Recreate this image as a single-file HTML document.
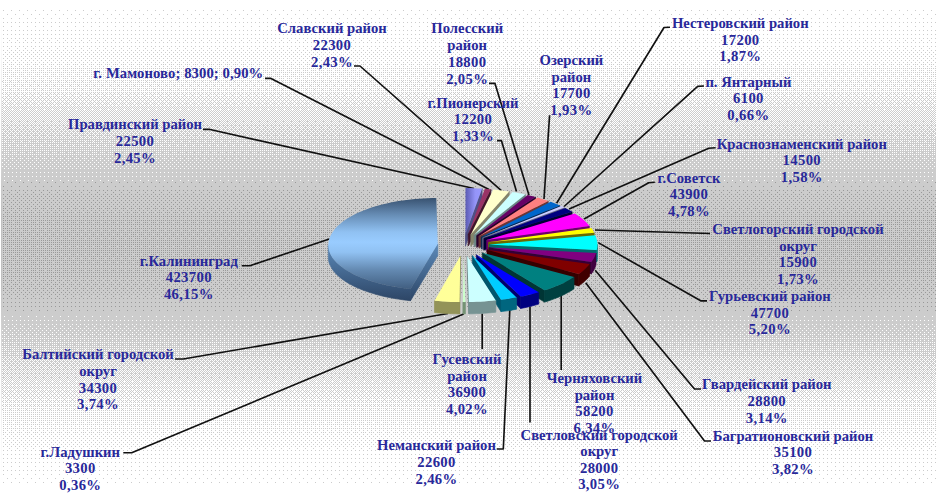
<!DOCTYPE html>
<html><head><meta charset="utf-8"><title>chart</title>
<style>
html,body{margin:0;padding:0;background:#fff;}
body{width:936px;height:495px;overflow:hidden;font-family:"Liberation Serif",serif;}
svg{display:block}
text{font-family:"Liberation Serif",serif;font-weight:bold;font-size:14.67px;fill:#28289a;text-anchor:middle}
.ld polyline{fill:none;stroke:#111;stroke-width:1.65;stroke-linejoin:round}
</style></head><body>
<svg width="936" height="495" viewBox="0 0 936 495">
<defs>
<linearGradient id="bg" gradientUnits="userSpaceOnUse" x1="0" y1="9" x2="0" y2="485">
<stop offset="0.0000" stop-color="#ffffff"/><stop offset="0.0609" stop-color="#fcfcfc"/><stop offset="0.0987" stop-color="#f9f9f9"/><stop offset="0.1408" stop-color="#f2f2f2"/><stop offset="0.2122" stop-color="#e6e6e6"/><stop offset="0.3634" stop-color="#cccccc"/><stop offset="0.4328" stop-color="#c0c0c0"/><stop offset="0.5672" stop-color="#c0c0c0"/><stop offset="0.6366" stop-color="#cccccc"/><stop offset="0.7878" stop-color="#e6e6e6"/><stop offset="0.8592" stop-color="#f2f2f2"/><stop offset="0.9013" stop-color="#f9f9f9"/><stop offset="0.9391" stop-color="#fcfcfc"/><stop offset="1.0000" stop-color="#ffffff"/>
</linearGradient>
<linearGradient id="kalg" gradientUnits="userSpaceOnUse" x1="0" y1="198" x2="0" y2="290">
<stop offset="0" stop-color="#385270"/><stop offset="0.18" stop-color="#668cb4"/><stop offset="0.37" stop-color="#90c1f2"/><stop offset="0.48" stop-color="#99ccff"/><stop offset="0.59" stop-color="#90c1f2"/><stop offset="0.78" stop-color="#648ab2"/><stop offset="1" stop-color="#3f5c7e"/>
</linearGradient>
<linearGradient id="prg" gradientUnits="userSpaceOnUse" x1="465" y1="0" x2="482" y2="0">
<stop offset="0" stop-color="#5858b0"/><stop offset="0.6" stop-color="#9494f8"/><stop offset="1" stop-color="#9999ff"/>
</linearGradient>
<linearGradient id="kalw" gradientUnits="userSpaceOnUse" x1="0" y1="240" x2="0" y2="302">
<stop offset="0" stop-color="#5f8fc0"/><stop offset="1" stop-color="#2c4464"/>
</linearGradient>
<pattern id="d1_0" patternUnits="userSpaceOnUse" x="0" y="0" width="8" height="8"><rect width="8" height="8" fill="#ffffff"/></pattern>
<pattern id="d1_1" patternUnits="userSpaceOnUse" x="0" y="0" width="8" height="8"><rect width="8" height="8" fill="#ffffff"/><path d="M3 2h1v1h-1z" fill="#cccccc"/></pattern>
<pattern id="d1_2" patternUnits="userSpaceOnUse" x="0" y="0" width="8" height="8"><rect width="8" height="8" fill="#ffffff"/><path d="M3 2h1v1h-1zM7 6h1v1h-1z" fill="#cccccc"/></pattern>
<pattern id="d1_3" patternUnits="userSpaceOnUse" x="0" y="0" width="8" height="8"><rect width="8" height="8" fill="#ffffff"/><path d="M3 2h1v1h-1zM3 6h1v1h-1zM7 6h1v1h-1z" fill="#cccccc"/></pattern>
<pattern id="d1_4" patternUnits="userSpaceOnUse" x="0" y="0" width="8" height="8"><rect width="8" height="8" fill="#ffffff"/><path d="M3 2h1v1h-1zM7 2h1v1h-1zM3 6h1v1h-1zM7 6h1v1h-1z" fill="#cccccc"/></pattern>
<pattern id="d1_5" patternUnits="userSpaceOnUse" x="0" y="0" width="8" height="8"><rect width="8" height="8" fill="#ffffff"/><path d="M1 0h1v1h-1zM3 2h1v1h-1zM7 2h1v1h-1zM3 6h1v1h-1zM7 6h1v1h-1z" fill="#cccccc"/></pattern>
<pattern id="d1_6" patternUnits="userSpaceOnUse" x="0" y="0" width="8" height="8"><rect width="8" height="8" fill="#ffffff"/><path d="M1 0h1v1h-1zM3 2h1v1h-1zM7 2h1v1h-1zM5 4h1v1h-1zM3 6h1v1h-1zM7 6h1v1h-1z" fill="#cccccc"/></pattern>
<pattern id="d1_7" patternUnits="userSpaceOnUse" x="0" y="0" width="8" height="8"><rect width="8" height="8" fill="#ffffff"/><path d="M1 0h1v1h-1zM3 2h1v1h-1zM7 2h1v1h-1zM1 4h1v1h-1zM5 4h1v1h-1zM3 6h1v1h-1zM7 6h1v1h-1z" fill="#cccccc"/></pattern>
<pattern id="d1_8" patternUnits="userSpaceOnUse" x="0" y="0" width="8" height="8"><rect width="8" height="8" fill="#ffffff"/><path d="M1 0h1v1h-1zM5 0h1v1h-1zM3 2h1v1h-1zM7 2h1v1h-1zM1 4h1v1h-1zM5 4h1v1h-1zM3 6h1v1h-1zM7 6h1v1h-1z" fill="#cccccc"/></pattern>
<pattern id="d1_9" patternUnits="userSpaceOnUse" x="0" y="0" width="8" height="8"><rect width="8" height="8" fill="#ffffff"/><path d="M1 0h1v1h-1zM3 0h1v1h-1zM5 0h1v1h-1zM3 2h1v1h-1zM7 2h1v1h-1zM1 4h1v1h-1zM5 4h1v1h-1zM3 6h1v1h-1zM7 6h1v1h-1z" fill="#cccccc"/></pattern>
<pattern id="d1_10" patternUnits="userSpaceOnUse" x="0" y="0" width="8" height="8"><rect width="8" height="8" fill="#ffffff"/><path d="M1 0h1v1h-1zM3 0h1v1h-1zM5 0h1v1h-1zM3 2h1v1h-1zM7 2h1v1h-1zM1 4h1v1h-1zM5 4h1v1h-1zM7 4h1v1h-1zM3 6h1v1h-1zM7 6h1v1h-1z" fill="#cccccc"/></pattern>
<pattern id="d1_11" patternUnits="userSpaceOnUse" x="0" y="0" width="8" height="8"><rect width="8" height="8" fill="#ffffff"/><path d="M1 0h1v1h-1zM3 0h1v1h-1zM5 0h1v1h-1zM3 2h1v1h-1zM7 2h1v1h-1zM1 4h1v1h-1zM3 4h1v1h-1zM5 4h1v1h-1zM7 4h1v1h-1zM3 6h1v1h-1zM7 6h1v1h-1z" fill="#cccccc"/></pattern>
<pattern id="d1_12" patternUnits="userSpaceOnUse" x="0" y="0" width="8" height="8"><rect width="8" height="8" fill="#ffffff"/><path d="M1 0h1v1h-1zM3 0h1v1h-1zM5 0h1v1h-1zM7 0h1v1h-1zM3 2h1v1h-1zM7 2h1v1h-1zM1 4h1v1h-1zM3 4h1v1h-1zM5 4h1v1h-1zM7 4h1v1h-1zM3 6h1v1h-1zM7 6h1v1h-1z" fill="#cccccc"/></pattern>
<pattern id="d1_13" patternUnits="userSpaceOnUse" x="0" y="0" width="8" height="8"><rect width="8" height="8" fill="#ffffff"/><path d="M1 0h1v1h-1zM3 0h1v1h-1zM5 0h1v1h-1zM7 0h1v1h-1zM3 2h1v1h-1zM7 2h1v1h-1zM1 4h1v1h-1zM3 4h1v1h-1zM5 4h1v1h-1zM7 4h1v1h-1zM1 6h1v1h-1zM3 6h1v1h-1zM7 6h1v1h-1z" fill="#cccccc"/></pattern>
<pattern id="d1_14" patternUnits="userSpaceOnUse" x="0" y="0" width="8" height="8"><rect width="8" height="8" fill="#ffffff"/><path d="M1 0h1v1h-1zM3 0h1v1h-1zM5 0h1v1h-1zM7 0h1v1h-1zM3 2h1v1h-1zM5 2h1v1h-1zM7 2h1v1h-1zM1 4h1v1h-1zM3 4h1v1h-1zM5 4h1v1h-1zM7 4h1v1h-1zM1 6h1v1h-1zM3 6h1v1h-1zM7 6h1v1h-1z" fill="#cccccc"/></pattern>
<pattern id="d1_15" patternUnits="userSpaceOnUse" x="0" y="0" width="8" height="8"><rect width="8" height="8" fill="#ffffff"/><path d="M1 0h1v1h-1zM3 0h1v1h-1zM5 0h1v1h-1zM7 0h1v1h-1zM1 2h1v1h-1zM3 2h1v1h-1zM5 2h1v1h-1zM7 2h1v1h-1zM1 4h1v1h-1zM3 4h1v1h-1zM5 4h1v1h-1zM7 4h1v1h-1zM1 6h1v1h-1zM3 6h1v1h-1zM7 6h1v1h-1z" fill="#cccccc"/></pattern>
<pattern id="d1_16" patternUnits="userSpaceOnUse" x="0" y="0" width="8" height="8"><rect width="8" height="8" fill="#ffffff"/><path d="M1 0h1v1h-1zM3 0h1v1h-1zM5 0h1v1h-1zM7 0h1v1h-1zM1 2h1v1h-1zM3 2h1v1h-1zM5 2h1v1h-1zM7 2h1v1h-1zM1 4h1v1h-1zM3 4h1v1h-1zM5 4h1v1h-1zM7 4h1v1h-1zM1 6h1v1h-1zM3 6h1v1h-1zM5 6h1v1h-1zM7 6h1v1h-1z" fill="#cccccc"/></pattern>
<pattern id="d1_17" patternUnits="userSpaceOnUse" x="0" y="0" width="8" height="8"><rect width="8" height="8" fill="#ffffff"/><path d="M1 0h1v1h-1zM3 0h1v1h-1zM5 0h1v1h-1zM7 0h1v1h-1zM2 1h1v1h-1zM1 2h1v1h-1zM3 2h1v1h-1zM5 2h1v1h-1zM7 2h1v1h-1zM1 4h1v1h-1zM3 4h1v1h-1zM5 4h1v1h-1zM7 4h1v1h-1zM1 6h1v1h-1zM3 6h1v1h-1zM5 6h1v1h-1zM7 6h1v1h-1z" fill="#cccccc"/></pattern>
<pattern id="d1_18" patternUnits="userSpaceOnUse" x="0" y="0" width="8" height="8"><rect width="8" height="8" fill="#ffffff"/><path d="M1 0h1v1h-1zM3 0h1v1h-1zM5 0h1v1h-1zM7 0h1v1h-1zM2 1h1v1h-1zM1 2h1v1h-1zM3 2h1v1h-1zM5 2h1v1h-1zM7 2h1v1h-1zM1 4h1v1h-1zM3 4h1v1h-1zM5 4h1v1h-1zM7 4h1v1h-1zM6 5h1v1h-1zM1 6h1v1h-1zM3 6h1v1h-1zM5 6h1v1h-1zM7 6h1v1h-1z" fill="#cccccc"/></pattern>
<pattern id="d1_19" patternUnits="userSpaceOnUse" x="0" y="0" width="8" height="8"><rect width="8" height="8" fill="#ffffff"/><path d="M1 0h1v1h-1zM3 0h1v1h-1zM5 0h1v1h-1zM7 0h1v1h-1zM2 1h1v1h-1zM1 2h1v1h-1zM3 2h1v1h-1zM5 2h1v1h-1zM7 2h1v1h-1zM1 4h1v1h-1zM3 4h1v1h-1zM5 4h1v1h-1zM7 4h1v1h-1zM2 5h1v1h-1zM6 5h1v1h-1zM1 6h1v1h-1zM3 6h1v1h-1zM5 6h1v1h-1zM7 6h1v1h-1z" fill="#cccccc"/></pattern>
<pattern id="d1_20" patternUnits="userSpaceOnUse" x="0" y="0" width="8" height="8"><rect width="8" height="8" fill="#ffffff"/><path d="M1 0h1v1h-1zM3 0h1v1h-1zM5 0h1v1h-1zM7 0h1v1h-1zM2 1h1v1h-1zM6 1h1v1h-1zM1 2h1v1h-1zM3 2h1v1h-1zM5 2h1v1h-1zM7 2h1v1h-1zM1 4h1v1h-1zM3 4h1v1h-1zM5 4h1v1h-1zM7 4h1v1h-1zM2 5h1v1h-1zM6 5h1v1h-1zM1 6h1v1h-1zM3 6h1v1h-1zM5 6h1v1h-1zM7 6h1v1h-1z" fill="#cccccc"/></pattern>
<pattern id="d1_21" patternUnits="userSpaceOnUse" x="0" y="0" width="8" height="8"><rect width="8" height="8" fill="#ffffff"/><path d="M1 0h1v1h-1zM3 0h1v1h-1zM5 0h1v1h-1zM7 0h1v1h-1zM2 1h1v1h-1zM6 1h1v1h-1zM1 2h1v1h-1zM3 2h1v1h-1zM5 2h1v1h-1zM7 2h1v1h-1zM1 4h1v1h-1zM3 4h1v1h-1zM5 4h1v1h-1zM7 4h1v1h-1zM2 5h1v1h-1zM6 5h1v1h-1zM1 6h1v1h-1zM3 6h1v1h-1zM5 6h1v1h-1zM7 6h1v1h-1zM0 7h1v1h-1z" fill="#cccccc"/></pattern>
<pattern id="d1_22" patternUnits="userSpaceOnUse" x="0" y="0" width="8" height="8"><rect width="8" height="8" fill="#ffffff"/><path d="M1 0h1v1h-1zM3 0h1v1h-1zM5 0h1v1h-1zM7 0h1v1h-1zM2 1h1v1h-1zM6 1h1v1h-1zM1 2h1v1h-1zM3 2h1v1h-1zM5 2h1v1h-1zM7 2h1v1h-1zM4 3h1v1h-1zM1 4h1v1h-1zM3 4h1v1h-1zM5 4h1v1h-1zM7 4h1v1h-1zM2 5h1v1h-1zM6 5h1v1h-1zM1 6h1v1h-1zM3 6h1v1h-1zM5 6h1v1h-1zM7 6h1v1h-1zM0 7h1v1h-1z" fill="#cccccc"/></pattern>
<pattern id="d1_23" patternUnits="userSpaceOnUse" x="0" y="0" width="8" height="8"><rect width="8" height="8" fill="#ffffff"/><path d="M1 0h1v1h-1zM3 0h1v1h-1zM5 0h1v1h-1zM7 0h1v1h-1zM2 1h1v1h-1zM6 1h1v1h-1zM1 2h1v1h-1zM3 2h1v1h-1zM5 2h1v1h-1zM7 2h1v1h-1zM0 3h1v1h-1zM4 3h1v1h-1zM1 4h1v1h-1zM3 4h1v1h-1zM5 4h1v1h-1zM7 4h1v1h-1zM2 5h1v1h-1zM6 5h1v1h-1zM1 6h1v1h-1zM3 6h1v1h-1zM5 6h1v1h-1zM7 6h1v1h-1zM0 7h1v1h-1z" fill="#cccccc"/></pattern>
<pattern id="d1_24" patternUnits="userSpaceOnUse" x="0" y="0" width="8" height="8"><rect width="8" height="8" fill="#ffffff"/><path d="M1 0h1v1h-1zM3 0h1v1h-1zM5 0h1v1h-1zM7 0h1v1h-1zM2 1h1v1h-1zM6 1h1v1h-1zM1 2h1v1h-1zM3 2h1v1h-1zM5 2h1v1h-1zM7 2h1v1h-1zM0 3h1v1h-1zM4 3h1v1h-1zM1 4h1v1h-1zM3 4h1v1h-1zM5 4h1v1h-1zM7 4h1v1h-1zM2 5h1v1h-1zM6 5h1v1h-1zM1 6h1v1h-1zM3 6h1v1h-1zM5 6h1v1h-1zM7 6h1v1h-1zM0 7h1v1h-1zM4 7h1v1h-1z" fill="#cccccc"/></pattern>
<pattern id="d1_25" patternUnits="userSpaceOnUse" x="0" y="0" width="8" height="8"><rect width="8" height="8" fill="#ffffff"/><path d="M1 0h1v1h-1zM3 0h1v1h-1zM5 0h1v1h-1zM7 0h1v1h-1zM2 1h1v1h-1zM6 1h1v1h-1zM1 2h1v1h-1zM3 2h1v1h-1zM5 2h1v1h-1zM7 2h1v1h-1zM0 3h1v1h-1zM4 3h1v1h-1zM1 4h1v1h-1zM3 4h1v1h-1zM5 4h1v1h-1zM7 4h1v1h-1zM2 5h1v1h-1zM6 5h1v1h-1zM1 6h1v1h-1zM3 6h1v1h-1zM5 6h1v1h-1zM7 6h1v1h-1zM0 7h1v1h-1zM2 7h1v1h-1zM4 7h1v1h-1z" fill="#cccccc"/></pattern>
<pattern id="d1_26" patternUnits="userSpaceOnUse" x="0" y="0" width="8" height="8"><rect width="8" height="8" fill="#ffffff"/><path d="M1 0h1v1h-1zM3 0h1v1h-1zM5 0h1v1h-1zM7 0h1v1h-1zM2 1h1v1h-1zM6 1h1v1h-1zM1 2h1v1h-1zM3 2h1v1h-1zM5 2h1v1h-1zM7 2h1v1h-1zM0 3h1v1h-1zM4 3h1v1h-1zM6 3h1v1h-1zM1 4h1v1h-1zM3 4h1v1h-1zM5 4h1v1h-1zM7 4h1v1h-1zM2 5h1v1h-1zM6 5h1v1h-1zM1 6h1v1h-1zM3 6h1v1h-1zM5 6h1v1h-1zM7 6h1v1h-1zM0 7h1v1h-1zM2 7h1v1h-1zM4 7h1v1h-1z" fill="#cccccc"/></pattern>
<pattern id="d1_27" patternUnits="userSpaceOnUse" x="0" y="0" width="8" height="8"><rect width="8" height="8" fill="#ffffff"/><path d="M1 0h1v1h-1zM3 0h1v1h-1zM5 0h1v1h-1zM7 0h1v1h-1zM2 1h1v1h-1zM6 1h1v1h-1zM1 2h1v1h-1zM3 2h1v1h-1zM5 2h1v1h-1zM7 2h1v1h-1zM0 3h1v1h-1zM2 3h1v1h-1zM4 3h1v1h-1zM6 3h1v1h-1zM1 4h1v1h-1zM3 4h1v1h-1zM5 4h1v1h-1zM7 4h1v1h-1zM2 5h1v1h-1zM6 5h1v1h-1zM1 6h1v1h-1zM3 6h1v1h-1zM5 6h1v1h-1zM7 6h1v1h-1zM0 7h1v1h-1zM2 7h1v1h-1zM4 7h1v1h-1z" fill="#cccccc"/></pattern>
<pattern id="d1_28" patternUnits="userSpaceOnUse" x="0" y="0" width="8" height="8"><rect width="8" height="8" fill="#ffffff"/><path d="M1 0h1v1h-1zM3 0h1v1h-1zM5 0h1v1h-1zM7 0h1v1h-1zM2 1h1v1h-1zM6 1h1v1h-1zM1 2h1v1h-1zM3 2h1v1h-1zM5 2h1v1h-1zM7 2h1v1h-1zM0 3h1v1h-1zM2 3h1v1h-1zM4 3h1v1h-1zM6 3h1v1h-1zM1 4h1v1h-1zM3 4h1v1h-1zM5 4h1v1h-1zM7 4h1v1h-1zM2 5h1v1h-1zM6 5h1v1h-1zM1 6h1v1h-1zM3 6h1v1h-1zM5 6h1v1h-1zM7 6h1v1h-1zM0 7h1v1h-1zM2 7h1v1h-1zM4 7h1v1h-1zM6 7h1v1h-1z" fill="#cccccc"/></pattern>
<pattern id="d1_29" patternUnits="userSpaceOnUse" x="0" y="0" width="8" height="8"><rect width="8" height="8" fill="#ffffff"/><path d="M1 0h1v1h-1zM3 0h1v1h-1zM5 0h1v1h-1zM7 0h1v1h-1zM2 1h1v1h-1zM6 1h1v1h-1zM1 2h1v1h-1zM3 2h1v1h-1zM5 2h1v1h-1zM7 2h1v1h-1zM0 3h1v1h-1zM2 3h1v1h-1zM4 3h1v1h-1zM6 3h1v1h-1zM1 4h1v1h-1zM3 4h1v1h-1zM5 4h1v1h-1zM7 4h1v1h-1zM0 5h1v1h-1zM2 5h1v1h-1zM6 5h1v1h-1zM1 6h1v1h-1zM3 6h1v1h-1zM5 6h1v1h-1zM7 6h1v1h-1zM0 7h1v1h-1zM2 7h1v1h-1zM4 7h1v1h-1zM6 7h1v1h-1z" fill="#cccccc"/></pattern>
<pattern id="d1_30" patternUnits="userSpaceOnUse" x="0" y="0" width="8" height="8"><rect width="8" height="8" fill="#ffffff"/><path d="M1 0h1v1h-1zM3 0h1v1h-1zM5 0h1v1h-1zM7 0h1v1h-1zM2 1h1v1h-1zM4 1h1v1h-1zM6 1h1v1h-1zM1 2h1v1h-1zM3 2h1v1h-1zM5 2h1v1h-1zM7 2h1v1h-1zM0 3h1v1h-1zM2 3h1v1h-1zM4 3h1v1h-1zM6 3h1v1h-1zM1 4h1v1h-1zM3 4h1v1h-1zM5 4h1v1h-1zM7 4h1v1h-1zM0 5h1v1h-1zM2 5h1v1h-1zM6 5h1v1h-1zM1 6h1v1h-1zM3 6h1v1h-1zM5 6h1v1h-1zM7 6h1v1h-1zM0 7h1v1h-1zM2 7h1v1h-1zM4 7h1v1h-1zM6 7h1v1h-1z" fill="#cccccc"/></pattern>
<pattern id="d1_31" patternUnits="userSpaceOnUse" x="0" y="0" width="8" height="8"><rect width="8" height="8" fill="#ffffff"/><path d="M1 0h1v1h-1zM3 0h1v1h-1zM5 0h1v1h-1zM7 0h1v1h-1zM0 1h1v1h-1zM2 1h1v1h-1zM4 1h1v1h-1zM6 1h1v1h-1zM1 2h1v1h-1zM3 2h1v1h-1zM5 2h1v1h-1zM7 2h1v1h-1zM0 3h1v1h-1zM2 3h1v1h-1zM4 3h1v1h-1zM6 3h1v1h-1zM1 4h1v1h-1zM3 4h1v1h-1zM5 4h1v1h-1zM7 4h1v1h-1zM0 5h1v1h-1zM2 5h1v1h-1zM6 5h1v1h-1zM1 6h1v1h-1zM3 6h1v1h-1zM5 6h1v1h-1zM7 6h1v1h-1zM0 7h1v1h-1zM2 7h1v1h-1zM4 7h1v1h-1zM6 7h1v1h-1z" fill="#cccccc"/></pattern>
<pattern id="d1_32" patternUnits="userSpaceOnUse" x="0" y="0" width="8" height="8"><rect width="8" height="8" fill="#ffffff"/><path d="M1 0h1v1h-1zM3 0h1v1h-1zM5 0h1v1h-1zM7 0h1v1h-1zM0 1h1v1h-1zM2 1h1v1h-1zM4 1h1v1h-1zM6 1h1v1h-1zM1 2h1v1h-1zM3 2h1v1h-1zM5 2h1v1h-1zM7 2h1v1h-1zM0 3h1v1h-1zM2 3h1v1h-1zM4 3h1v1h-1zM6 3h1v1h-1zM1 4h1v1h-1zM3 4h1v1h-1zM5 4h1v1h-1zM7 4h1v1h-1zM0 5h1v1h-1zM2 5h1v1h-1zM4 5h1v1h-1zM6 5h1v1h-1zM1 6h1v1h-1zM3 6h1v1h-1zM5 6h1v1h-1zM7 6h1v1h-1zM0 7h1v1h-1zM2 7h1v1h-1zM4 7h1v1h-1zM6 7h1v1h-1z" fill="#cccccc"/></pattern>
<pattern id="d1_33" patternUnits="userSpaceOnUse" x="0" y="0" width="8" height="8"><rect width="8" height="8" fill="#cccccc"/><path d="M0 0h1v1h-1zM2 0h1v1h-1zM4 0h1v1h-1zM6 0h1v1h-1zM1 1h1v1h-1zM5 1h1v1h-1zM7 1h1v1h-1zM0 2h1v1h-1zM2 2h1v1h-1zM4 2h1v1h-1zM6 2h1v1h-1zM1 3h1v1h-1zM3 3h1v1h-1zM5 3h1v1h-1zM7 3h1v1h-1zM0 4h1v1h-1zM2 4h1v1h-1zM4 4h1v1h-1zM6 4h1v1h-1zM1 5h1v1h-1zM3 5h1v1h-1zM5 5h1v1h-1zM7 5h1v1h-1zM0 6h1v1h-1zM2 6h1v1h-1zM4 6h1v1h-1zM6 6h1v1h-1zM1 7h1v1h-1zM3 7h1v1h-1zM5 7h1v1h-1zM7 7h1v1h-1z" fill="#ffffff"/></pattern>
<pattern id="d1_34" patternUnits="userSpaceOnUse" x="0" y="0" width="8" height="8"><rect width="8" height="8" fill="#cccccc"/><path d="M0 0h1v1h-1zM2 0h1v1h-1zM4 0h1v1h-1zM6 0h1v1h-1zM1 1h1v1h-1zM5 1h1v1h-1zM7 1h1v1h-1zM0 2h1v1h-1zM2 2h1v1h-1zM4 2h1v1h-1zM6 2h1v1h-1zM1 3h1v1h-1zM3 3h1v1h-1zM5 3h1v1h-1zM7 3h1v1h-1zM0 4h1v1h-1zM2 4h1v1h-1zM4 4h1v1h-1zM6 4h1v1h-1zM1 5h1v1h-1zM3 5h1v1h-1zM5 5h1v1h-1zM0 6h1v1h-1zM2 6h1v1h-1zM4 6h1v1h-1zM6 6h1v1h-1zM1 7h1v1h-1zM3 7h1v1h-1zM5 7h1v1h-1zM7 7h1v1h-1z" fill="#ffffff"/></pattern>
<pattern id="d1_35" patternUnits="userSpaceOnUse" x="0" y="0" width="8" height="8"><rect width="8" height="8" fill="#cccccc"/><path d="M0 0h1v1h-1zM2 0h1v1h-1zM4 0h1v1h-1zM6 0h1v1h-1zM1 1h1v1h-1zM5 1h1v1h-1zM7 1h1v1h-1zM0 2h1v1h-1zM2 2h1v1h-1zM4 2h1v1h-1zM6 2h1v1h-1zM1 3h1v1h-1zM3 3h1v1h-1zM5 3h1v1h-1zM7 3h1v1h-1zM0 4h1v1h-1zM2 4h1v1h-1zM4 4h1v1h-1zM6 4h1v1h-1zM1 5h1v1h-1zM5 5h1v1h-1zM0 6h1v1h-1zM2 6h1v1h-1zM4 6h1v1h-1zM6 6h1v1h-1zM1 7h1v1h-1zM3 7h1v1h-1zM5 7h1v1h-1zM7 7h1v1h-1z" fill="#ffffff"/></pattern>
<pattern id="d1_36" patternUnits="userSpaceOnUse" x="0" y="0" width="8" height="8"><rect width="8" height="8" fill="#cccccc"/><path d="M0 0h1v1h-1zM2 0h1v1h-1zM4 0h1v1h-1zM6 0h1v1h-1zM1 1h1v1h-1zM5 1h1v1h-1zM0 2h1v1h-1zM2 2h1v1h-1zM4 2h1v1h-1zM6 2h1v1h-1zM1 3h1v1h-1zM3 3h1v1h-1zM5 3h1v1h-1zM7 3h1v1h-1zM0 4h1v1h-1zM2 4h1v1h-1zM4 4h1v1h-1zM6 4h1v1h-1zM1 5h1v1h-1zM5 5h1v1h-1zM0 6h1v1h-1zM2 6h1v1h-1zM4 6h1v1h-1zM6 6h1v1h-1zM1 7h1v1h-1zM3 7h1v1h-1zM5 7h1v1h-1zM7 7h1v1h-1z" fill="#ffffff"/></pattern>
<pattern id="d1_37" patternUnits="userSpaceOnUse" x="0" y="0" width="8" height="8"><rect width="8" height="8" fill="#cccccc"/><path d="M0 0h1v1h-1zM2 0h1v1h-1zM4 0h1v1h-1zM6 0h1v1h-1zM1 1h1v1h-1zM5 1h1v1h-1zM0 2h1v1h-1zM2 2h1v1h-1zM4 2h1v1h-1zM6 2h1v1h-1zM1 3h1v1h-1zM3 3h1v1h-1zM5 3h1v1h-1zM7 3h1v1h-1zM0 4h1v1h-1zM2 4h1v1h-1zM4 4h1v1h-1zM6 4h1v1h-1zM1 5h1v1h-1zM5 5h1v1h-1zM0 6h1v1h-1zM2 6h1v1h-1zM4 6h1v1h-1zM6 6h1v1h-1zM3 7h1v1h-1zM5 7h1v1h-1zM7 7h1v1h-1z" fill="#ffffff"/></pattern>
<pattern id="d1_38" patternUnits="userSpaceOnUse" x="0" y="0" width="8" height="8"><rect width="8" height="8" fill="#cccccc"/><path d="M0 0h1v1h-1zM2 0h1v1h-1zM4 0h1v1h-1zM6 0h1v1h-1zM1 1h1v1h-1zM5 1h1v1h-1zM0 2h1v1h-1zM2 2h1v1h-1zM4 2h1v1h-1zM6 2h1v1h-1zM1 3h1v1h-1zM3 3h1v1h-1zM7 3h1v1h-1zM0 4h1v1h-1zM2 4h1v1h-1zM4 4h1v1h-1zM6 4h1v1h-1zM1 5h1v1h-1zM5 5h1v1h-1zM0 6h1v1h-1zM2 6h1v1h-1zM4 6h1v1h-1zM6 6h1v1h-1zM3 7h1v1h-1zM5 7h1v1h-1zM7 7h1v1h-1z" fill="#ffffff"/></pattern>
<pattern id="d1_39" patternUnits="userSpaceOnUse" x="0" y="0" width="8" height="8"><rect width="8" height="8" fill="#cccccc"/><path d="M0 0h1v1h-1zM2 0h1v1h-1zM4 0h1v1h-1zM6 0h1v1h-1zM1 1h1v1h-1zM5 1h1v1h-1zM0 2h1v1h-1zM2 2h1v1h-1zM4 2h1v1h-1zM6 2h1v1h-1zM3 3h1v1h-1zM7 3h1v1h-1zM0 4h1v1h-1zM2 4h1v1h-1zM4 4h1v1h-1zM6 4h1v1h-1zM1 5h1v1h-1zM5 5h1v1h-1zM0 6h1v1h-1zM2 6h1v1h-1zM4 6h1v1h-1zM6 6h1v1h-1zM3 7h1v1h-1zM5 7h1v1h-1zM7 7h1v1h-1z" fill="#ffffff"/></pattern>
<pattern id="d1_40" patternUnits="userSpaceOnUse" x="0" y="0" width="8" height="8"><rect width="8" height="8" fill="#cccccc"/><path d="M0 0h1v1h-1zM2 0h1v1h-1zM4 0h1v1h-1zM6 0h1v1h-1zM1 1h1v1h-1zM5 1h1v1h-1zM0 2h1v1h-1zM2 2h1v1h-1zM4 2h1v1h-1zM6 2h1v1h-1zM3 3h1v1h-1zM7 3h1v1h-1zM0 4h1v1h-1zM2 4h1v1h-1zM4 4h1v1h-1zM6 4h1v1h-1zM1 5h1v1h-1zM5 5h1v1h-1zM0 6h1v1h-1zM2 6h1v1h-1zM4 6h1v1h-1zM6 6h1v1h-1zM3 7h1v1h-1zM7 7h1v1h-1z" fill="#ffffff"/></pattern>
<pattern id="d1_41" patternUnits="userSpaceOnUse" x="0" y="0" width="8" height="8"><rect width="8" height="8" fill="#cccccc"/><path d="M0 0h1v1h-1zM2 0h1v1h-1zM4 0h1v1h-1zM6 0h1v1h-1zM1 1h1v1h-1zM5 1h1v1h-1zM0 2h1v1h-1zM2 2h1v1h-1zM4 2h1v1h-1zM6 2h1v1h-1zM3 3h1v1h-1zM7 3h1v1h-1zM0 4h1v1h-1zM2 4h1v1h-1zM4 4h1v1h-1zM6 4h1v1h-1zM1 5h1v1h-1zM5 5h1v1h-1zM0 6h1v1h-1zM2 6h1v1h-1zM4 6h1v1h-1zM6 6h1v1h-1zM7 7h1v1h-1z" fill="#ffffff"/></pattern>
<pattern id="d1_42" patternUnits="userSpaceOnUse" x="0" y="0" width="8" height="8"><rect width="8" height="8" fill="#cccccc"/><path d="M0 0h1v1h-1zM2 0h1v1h-1zM4 0h1v1h-1zM6 0h1v1h-1zM1 1h1v1h-1zM5 1h1v1h-1zM0 2h1v1h-1zM2 2h1v1h-1zM4 2h1v1h-1zM6 2h1v1h-1zM3 3h1v1h-1zM0 4h1v1h-1zM2 4h1v1h-1zM4 4h1v1h-1zM6 4h1v1h-1zM1 5h1v1h-1zM5 5h1v1h-1zM0 6h1v1h-1zM2 6h1v1h-1zM4 6h1v1h-1zM6 6h1v1h-1zM7 7h1v1h-1z" fill="#ffffff"/></pattern>
<pattern id="d1_43" patternUnits="userSpaceOnUse" x="0" y="0" width="8" height="8"><rect width="8" height="8" fill="#cccccc"/><path d="M0 0h1v1h-1zM2 0h1v1h-1zM4 0h1v1h-1zM6 0h1v1h-1zM1 1h1v1h-1zM5 1h1v1h-1zM0 2h1v1h-1zM2 2h1v1h-1zM4 2h1v1h-1zM6 2h1v1h-1zM0 4h1v1h-1zM2 4h1v1h-1zM4 4h1v1h-1zM6 4h1v1h-1zM1 5h1v1h-1zM5 5h1v1h-1zM0 6h1v1h-1zM2 6h1v1h-1zM4 6h1v1h-1zM6 6h1v1h-1zM7 7h1v1h-1z" fill="#ffffff"/></pattern>
<pattern id="d1_44" patternUnits="userSpaceOnUse" x="0" y="0" width="8" height="8"><rect width="8" height="8" fill="#cccccc"/><path d="M0 0h1v1h-1zM2 0h1v1h-1zM4 0h1v1h-1zM6 0h1v1h-1zM1 1h1v1h-1zM5 1h1v1h-1zM0 2h1v1h-1zM2 2h1v1h-1zM4 2h1v1h-1zM6 2h1v1h-1zM0 4h1v1h-1zM2 4h1v1h-1zM4 4h1v1h-1zM6 4h1v1h-1zM1 5h1v1h-1zM5 5h1v1h-1zM0 6h1v1h-1zM2 6h1v1h-1zM4 6h1v1h-1zM6 6h1v1h-1z" fill="#ffffff"/></pattern>
<pattern id="d1_45" patternUnits="userSpaceOnUse" x="0" y="0" width="8" height="8"><rect width="8" height="8" fill="#cccccc"/><path d="M0 0h1v1h-1zM2 0h1v1h-1zM4 0h1v1h-1zM6 0h1v1h-1zM1 1h1v1h-1zM5 1h1v1h-1zM0 2h1v1h-1zM2 2h1v1h-1zM4 2h1v1h-1zM6 2h1v1h-1zM0 4h1v1h-1zM2 4h1v1h-1zM4 4h1v1h-1zM6 4h1v1h-1zM5 5h1v1h-1zM0 6h1v1h-1zM2 6h1v1h-1zM4 6h1v1h-1zM6 6h1v1h-1z" fill="#ffffff"/></pattern>
<pattern id="d1_46" patternUnits="userSpaceOnUse" x="0" y="0" width="8" height="8"><rect width="8" height="8" fill="#cccccc"/><path d="M0 0h1v1h-1zM2 0h1v1h-1zM4 0h1v1h-1zM6 0h1v1h-1zM1 1h1v1h-1zM0 2h1v1h-1zM2 2h1v1h-1zM4 2h1v1h-1zM6 2h1v1h-1zM0 4h1v1h-1zM2 4h1v1h-1zM4 4h1v1h-1zM6 4h1v1h-1zM5 5h1v1h-1zM0 6h1v1h-1zM2 6h1v1h-1zM4 6h1v1h-1zM6 6h1v1h-1z" fill="#ffffff"/></pattern>
<pattern id="d1_47" patternUnits="userSpaceOnUse" x="0" y="0" width="8" height="8"><rect width="8" height="8" fill="#cccccc"/><path d="M0 0h1v1h-1zM2 0h1v1h-1zM4 0h1v1h-1zM6 0h1v1h-1zM0 2h1v1h-1zM2 2h1v1h-1zM4 2h1v1h-1zM6 2h1v1h-1zM0 4h1v1h-1zM2 4h1v1h-1zM4 4h1v1h-1zM6 4h1v1h-1zM5 5h1v1h-1zM0 6h1v1h-1zM2 6h1v1h-1zM4 6h1v1h-1zM6 6h1v1h-1z" fill="#ffffff"/></pattern>
<pattern id="d1_48" patternUnits="userSpaceOnUse" x="0" y="0" width="8" height="8"><rect width="8" height="8" fill="#cccccc"/><path d="M0 0h1v1h-1zM2 0h1v1h-1zM4 0h1v1h-1zM6 0h1v1h-1zM0 2h1v1h-1zM2 2h1v1h-1zM4 2h1v1h-1zM6 2h1v1h-1zM0 4h1v1h-1zM2 4h1v1h-1zM4 4h1v1h-1zM6 4h1v1h-1zM0 6h1v1h-1zM2 6h1v1h-1zM4 6h1v1h-1zM6 6h1v1h-1z" fill="#ffffff"/></pattern>
<pattern id="d1_49" patternUnits="userSpaceOnUse" x="0" y="0" width="8" height="8"><rect width="8" height="8" fill="#cccccc"/><path d="M0 0h1v1h-1zM4 0h1v1h-1zM6 0h1v1h-1zM0 2h1v1h-1zM2 2h1v1h-1zM4 2h1v1h-1zM6 2h1v1h-1zM0 4h1v1h-1zM2 4h1v1h-1zM4 4h1v1h-1zM6 4h1v1h-1zM0 6h1v1h-1zM2 6h1v1h-1zM4 6h1v1h-1zM6 6h1v1h-1z" fill="#ffffff"/></pattern>
<pattern id="d1_50" patternUnits="userSpaceOnUse" x="0" y="0" width="8" height="8"><rect width="8" height="8" fill="#cccccc"/><path d="M0 0h1v1h-1zM4 0h1v1h-1zM6 0h1v1h-1zM0 2h1v1h-1zM2 2h1v1h-1zM4 2h1v1h-1zM6 2h1v1h-1zM0 4h1v1h-1zM2 4h1v1h-1zM4 4h1v1h-1zM0 6h1v1h-1zM2 6h1v1h-1zM4 6h1v1h-1zM6 6h1v1h-1z" fill="#ffffff"/></pattern>
<pattern id="d1_51" patternUnits="userSpaceOnUse" x="0" y="0" width="8" height="8"><rect width="8" height="8" fill="#cccccc"/><path d="M0 0h1v1h-1zM4 0h1v1h-1zM6 0h1v1h-1zM0 2h1v1h-1zM2 2h1v1h-1zM4 2h1v1h-1zM6 2h1v1h-1zM0 4h1v1h-1zM4 4h1v1h-1zM0 6h1v1h-1zM2 6h1v1h-1zM4 6h1v1h-1zM6 6h1v1h-1z" fill="#ffffff"/></pattern>
<pattern id="d1_52" patternUnits="userSpaceOnUse" x="0" y="0" width="8" height="8"><rect width="8" height="8" fill="#cccccc"/><path d="M0 0h1v1h-1zM4 0h1v1h-1zM0 2h1v1h-1zM2 2h1v1h-1zM4 2h1v1h-1zM6 2h1v1h-1zM0 4h1v1h-1zM4 4h1v1h-1zM0 6h1v1h-1zM2 6h1v1h-1zM4 6h1v1h-1zM6 6h1v1h-1z" fill="#ffffff"/></pattern>
<pattern id="d1_53" patternUnits="userSpaceOnUse" x="0" y="0" width="8" height="8"><rect width="8" height="8" fill="#cccccc"/><path d="M0 0h1v1h-1zM4 0h1v1h-1zM0 2h1v1h-1zM2 2h1v1h-1zM4 2h1v1h-1zM6 2h1v1h-1zM0 4h1v1h-1zM4 4h1v1h-1zM2 6h1v1h-1zM4 6h1v1h-1zM6 6h1v1h-1z" fill="#ffffff"/></pattern>
<pattern id="d1_54" patternUnits="userSpaceOnUse" x="0" y="0" width="8" height="8"><rect width="8" height="8" fill="#cccccc"/><path d="M0 0h1v1h-1zM4 0h1v1h-1zM0 2h1v1h-1zM2 2h1v1h-1zM6 2h1v1h-1zM0 4h1v1h-1zM4 4h1v1h-1zM2 6h1v1h-1zM4 6h1v1h-1zM6 6h1v1h-1z" fill="#ffffff"/></pattern>
<pattern id="d1_55" patternUnits="userSpaceOnUse" x="0" y="0" width="8" height="8"><rect width="8" height="8" fill="#cccccc"/><path d="M0 0h1v1h-1zM4 0h1v1h-1zM2 2h1v1h-1zM6 2h1v1h-1zM0 4h1v1h-1zM4 4h1v1h-1zM2 6h1v1h-1zM4 6h1v1h-1zM6 6h1v1h-1z" fill="#ffffff"/></pattern>
<pattern id="d1_56" patternUnits="userSpaceOnUse" x="0" y="0" width="8" height="8"><rect width="8" height="8" fill="#cccccc"/><path d="M0 0h1v1h-1zM4 0h1v1h-1zM2 2h1v1h-1zM6 2h1v1h-1zM0 4h1v1h-1zM4 4h1v1h-1zM2 6h1v1h-1zM6 6h1v1h-1z" fill="#ffffff"/></pattern>
<pattern id="d1_57" patternUnits="userSpaceOnUse" x="0" y="0" width="8" height="8"><rect width="8" height="8" fill="#cccccc"/><path d="M0 0h1v1h-1zM4 0h1v1h-1zM2 2h1v1h-1zM6 2h1v1h-1zM0 4h1v1h-1zM4 4h1v1h-1zM6 6h1v1h-1z" fill="#ffffff"/></pattern>
<pattern id="d1_58" patternUnits="userSpaceOnUse" x="0" y="0" width="8" height="8"><rect width="8" height="8" fill="#cccccc"/><path d="M0 0h1v1h-1zM4 0h1v1h-1zM2 2h1v1h-1zM0 4h1v1h-1zM4 4h1v1h-1zM6 6h1v1h-1z" fill="#ffffff"/></pattern>
<pattern id="d1_59" patternUnits="userSpaceOnUse" x="0" y="0" width="8" height="8"><rect width="8" height="8" fill="#cccccc"/><path d="M0 0h1v1h-1zM4 0h1v1h-1zM0 4h1v1h-1zM4 4h1v1h-1zM6 6h1v1h-1z" fill="#ffffff"/></pattern>
<pattern id="d1_60" patternUnits="userSpaceOnUse" x="0" y="0" width="8" height="8"><rect width="8" height="8" fill="#cccccc"/><path d="M0 0h1v1h-1zM4 0h1v1h-1zM0 4h1v1h-1zM4 4h1v1h-1z" fill="#ffffff"/></pattern>
<pattern id="d1_61" patternUnits="userSpaceOnUse" x="0" y="0" width="8" height="8"><rect width="8" height="8" fill="#cccccc"/><path d="M0 0h1v1h-1zM4 0h1v1h-1zM4 4h1v1h-1z" fill="#ffffff"/></pattern>
<pattern id="d1_62" patternUnits="userSpaceOnUse" x="0" y="0" width="8" height="8"><rect width="8" height="8" fill="#cccccc"/><path d="M0 0h1v1h-1zM4 4h1v1h-1z" fill="#ffffff"/></pattern>
<pattern id="d1_64" patternUnits="userSpaceOnUse" x="0" y="0" width="8" height="8"><rect width="8" height="8" fill="#cccccc"/></pattern>
<pattern id="d2_0" patternUnits="userSpaceOnUse" x="0" y="0" width="8" height="8"><rect width="8" height="8" fill="#cccccc"/></pattern>
<pattern id="d2_1" patternUnits="userSpaceOnUse" x="0" y="0" width="8" height="8"><rect width="8" height="8" fill="#cccccc"/><path d="M3 2h1v1h-1z" fill="#999999"/></pattern>
<pattern id="d2_2" patternUnits="userSpaceOnUse" x="0" y="0" width="8" height="8"><rect width="8" height="8" fill="#cccccc"/><path d="M3 2h1v1h-1zM7 6h1v1h-1z" fill="#999999"/></pattern>
<pattern id="d2_3" patternUnits="userSpaceOnUse" x="0" y="0" width="8" height="8"><rect width="8" height="8" fill="#cccccc"/><path d="M3 2h1v1h-1zM3 6h1v1h-1zM7 6h1v1h-1z" fill="#999999"/></pattern>
<pattern id="d2_4" patternUnits="userSpaceOnUse" x="0" y="0" width="8" height="8"><rect width="8" height="8" fill="#cccccc"/><path d="M3 2h1v1h-1zM7 2h1v1h-1zM3 6h1v1h-1zM7 6h1v1h-1z" fill="#999999"/></pattern>
<pattern id="d2_5" patternUnits="userSpaceOnUse" x="0" y="0" width="8" height="8"><rect width="8" height="8" fill="#cccccc"/><path d="M1 0h1v1h-1zM3 2h1v1h-1zM7 2h1v1h-1zM3 6h1v1h-1zM7 6h1v1h-1z" fill="#999999"/></pattern>
<pattern id="d2_6" patternUnits="userSpaceOnUse" x="0" y="0" width="8" height="8"><rect width="8" height="8" fill="#cccccc"/><path d="M1 0h1v1h-1zM3 2h1v1h-1zM7 2h1v1h-1zM5 4h1v1h-1zM3 6h1v1h-1zM7 6h1v1h-1z" fill="#999999"/></pattern>
<pattern id="d2_7" patternUnits="userSpaceOnUse" x="0" y="0" width="8" height="8"><rect width="8" height="8" fill="#cccccc"/><path d="M1 0h1v1h-1zM3 2h1v1h-1zM7 2h1v1h-1zM1 4h1v1h-1zM5 4h1v1h-1zM3 6h1v1h-1zM7 6h1v1h-1z" fill="#999999"/></pattern>
<pattern id="d2_8" patternUnits="userSpaceOnUse" x="0" y="0" width="8" height="8"><rect width="8" height="8" fill="#cccccc"/><path d="M1 0h1v1h-1zM5 0h1v1h-1zM3 2h1v1h-1zM7 2h1v1h-1zM1 4h1v1h-1zM5 4h1v1h-1zM3 6h1v1h-1zM7 6h1v1h-1z" fill="#999999"/></pattern>
<pattern id="d2_9" patternUnits="userSpaceOnUse" x="0" y="0" width="8" height="8"><rect width="8" height="8" fill="#cccccc"/><path d="M1 0h1v1h-1zM3 0h1v1h-1zM5 0h1v1h-1zM3 2h1v1h-1zM7 2h1v1h-1zM1 4h1v1h-1zM5 4h1v1h-1zM3 6h1v1h-1zM7 6h1v1h-1z" fill="#999999"/></pattern>
<pattern id="d2_10" patternUnits="userSpaceOnUse" x="0" y="0" width="8" height="8"><rect width="8" height="8" fill="#cccccc"/><path d="M1 0h1v1h-1zM3 0h1v1h-1zM5 0h1v1h-1zM3 2h1v1h-1zM7 2h1v1h-1zM1 4h1v1h-1zM5 4h1v1h-1zM7 4h1v1h-1zM3 6h1v1h-1zM7 6h1v1h-1z" fill="#999999"/></pattern>
<pattern id="d2_11" patternUnits="userSpaceOnUse" x="0" y="0" width="8" height="8"><rect width="8" height="8" fill="#cccccc"/><path d="M1 0h1v1h-1zM3 0h1v1h-1zM5 0h1v1h-1zM3 2h1v1h-1zM7 2h1v1h-1zM1 4h1v1h-1zM3 4h1v1h-1zM5 4h1v1h-1zM7 4h1v1h-1zM3 6h1v1h-1zM7 6h1v1h-1z" fill="#999999"/></pattern>
<pattern id="d2_12" patternUnits="userSpaceOnUse" x="0" y="0" width="8" height="8"><rect width="8" height="8" fill="#cccccc"/><path d="M1 0h1v1h-1zM3 0h1v1h-1zM5 0h1v1h-1zM7 0h1v1h-1zM3 2h1v1h-1zM7 2h1v1h-1zM1 4h1v1h-1zM3 4h1v1h-1zM5 4h1v1h-1zM7 4h1v1h-1zM3 6h1v1h-1zM7 6h1v1h-1z" fill="#999999"/></pattern>
<pattern id="d2_13" patternUnits="userSpaceOnUse" x="0" y="0" width="8" height="8"><rect width="8" height="8" fill="#cccccc"/><path d="M1 0h1v1h-1zM3 0h1v1h-1zM5 0h1v1h-1zM7 0h1v1h-1zM3 2h1v1h-1zM7 2h1v1h-1zM1 4h1v1h-1zM3 4h1v1h-1zM5 4h1v1h-1zM7 4h1v1h-1zM1 6h1v1h-1zM3 6h1v1h-1zM7 6h1v1h-1z" fill="#999999"/></pattern>
<pattern id="d2_14" patternUnits="userSpaceOnUse" x="0" y="0" width="8" height="8"><rect width="8" height="8" fill="#cccccc"/><path d="M1 0h1v1h-1zM3 0h1v1h-1zM5 0h1v1h-1zM7 0h1v1h-1zM3 2h1v1h-1zM5 2h1v1h-1zM7 2h1v1h-1zM1 4h1v1h-1zM3 4h1v1h-1zM5 4h1v1h-1zM7 4h1v1h-1zM1 6h1v1h-1zM3 6h1v1h-1zM7 6h1v1h-1z" fill="#999999"/></pattern>
<pattern id="d2_15" patternUnits="userSpaceOnUse" x="0" y="0" width="8" height="8"><rect width="8" height="8" fill="#cccccc"/><path d="M1 0h1v1h-1zM3 0h1v1h-1zM5 0h1v1h-1zM7 0h1v1h-1zM1 2h1v1h-1zM3 2h1v1h-1zM5 2h1v1h-1zM7 2h1v1h-1zM1 4h1v1h-1zM3 4h1v1h-1zM5 4h1v1h-1zM7 4h1v1h-1zM1 6h1v1h-1zM3 6h1v1h-1zM7 6h1v1h-1z" fill="#999999"/></pattern>
</defs>
<rect x="0" y="0" width="936" height="495" fill="#fff"/>
<rect x="1" y="9" width="935" height="476" fill="url(#bg)"/>
<g shape-rendering="crispEdges">
<rect x="2" y="9" width="934" height="1" fill="url(#d1_0)"/>
<rect x="2" y="10" width="934" height="4" fill="url(#d1_1)"/>
<rect x="2" y="14" width="934" height="6" fill="url(#d1_2)"/>
<rect x="2" y="20" width="934" height="12" fill="url(#d1_3)"/>
<rect x="2" y="32" width="934" height="7" fill="url(#d1_4)"/>
<rect x="2" y="39" width="934" height="10" fill="url(#d1_5)"/>
<rect x="2" y="49" width="934" height="2" fill="url(#d1_6)"/>
<rect x="2" y="51" width="934" height="3" fill="url(#d1_7)"/>
<rect x="2" y="54" width="934" height="7" fill="url(#d1_8)"/>
<rect x="2" y="61" width="934" height="2" fill="url(#d1_9)"/>
<rect x="2" y="63" width="934" height="2" fill="url(#d1_10)"/>
<rect x="2" y="65" width="934" height="2" fill="url(#d1_11)"/>
<rect x="2" y="67" width="934" height="2" fill="url(#d1_12)"/>
<rect x="2" y="69" width="934" height="3" fill="url(#d1_13)"/>
<rect x="2" y="72" width="934" height="3" fill="url(#d1_14)"/>
<rect x="2" y="75" width="934" height="4" fill="url(#d1_15)"/>
<rect x="2" y="79" width="934" height="2" fill="url(#d1_16)"/>
<rect x="2" y="81" width="934" height="2" fill="url(#d1_17)"/>
<rect x="2" y="83" width="934" height="5" fill="url(#d1_18)"/>
<rect x="2" y="88" width="934" height="4" fill="url(#d1_19)"/>
<rect x="2" y="92" width="934" height="2" fill="url(#d1_20)"/>
<rect x="2" y="94" width="934" height="1" fill="url(#d1_21)"/>
<rect x="2" y="95" width="934" height="1" fill="url(#d1_22)"/>
<rect x="2" y="96" width="934" height="1" fill="url(#d1_23)"/>
<rect x="2" y="97" width="934" height="1" fill="url(#d1_24)"/>
<rect x="2" y="98" width="934" height="2" fill="url(#d1_25)"/>
<rect x="2" y="100" width="934" height="2" fill="url(#d1_26)"/>
<rect x="2" y="102" width="934" height="2" fill="url(#d1_27)"/>
<rect x="2" y="104" width="934" height="2" fill="url(#d1_28)"/>
<rect x="2" y="106" width="934" height="3" fill="url(#d1_29)"/>
<rect x="2" y="109" width="934" height="3" fill="url(#d1_30)"/>
<rect x="2" y="112" width="934" height="3" fill="url(#d1_31)"/>
<rect x="2" y="115" width="934" height="2" fill="url(#d1_32)"/>
<rect x="2" y="117" width="934" height="3" fill="url(#d1_33)"/>
<rect x="2" y="120" width="934" height="2" fill="url(#d1_34)"/>
<rect x="2" y="122" width="934" height="2" fill="url(#d1_35)"/>
<rect x="2" y="124" width="934" height="1" fill="url(#d1_36)"/>
<rect x="2" y="125" width="934" height="2" fill="url(#d1_37)"/>
<rect x="2" y="127" width="934" height="1" fill="url(#d1_38)"/>
<rect x="2" y="128" width="934" height="2" fill="url(#d1_39)"/>
<rect x="2" y="130" width="934" height="2" fill="url(#d1_40)"/>
<rect x="2" y="132" width="934" height="2" fill="url(#d1_41)"/>
<rect x="2" y="134" width="934" height="3" fill="url(#d1_42)"/>
<rect x="2" y="137" width="934" height="2" fill="url(#d1_43)"/>
<rect x="2" y="139" width="934" height="2" fill="url(#d1_44)"/>
<rect x="2" y="141" width="934" height="2" fill="url(#d1_45)"/>
<rect x="2" y="143" width="934" height="4" fill="url(#d1_46)"/>
<rect x="2" y="147" width="934" height="2" fill="url(#d1_47)"/>
<rect x="2" y="149" width="934" height="1" fill="url(#d1_48)"/>
<rect x="2" y="150" width="934" height="2" fill="url(#d1_49)"/>
<rect x="2" y="152" width="934" height="1" fill="url(#d1_50)"/>
<rect x="2" y="153" width="934" height="1" fill="url(#d1_51)"/>
<rect x="2" y="154" width="934" height="3" fill="url(#d1_52)"/>
<rect x="2" y="157" width="934" height="1" fill="url(#d1_53)"/>
<rect x="2" y="158" width="934" height="1" fill="url(#d1_54)"/>
<rect x="2" y="159" width="934" height="2" fill="url(#d1_55)"/>
<rect x="2" y="161" width="934" height="6" fill="url(#d1_56)"/>
<rect x="2" y="167" width="934" height="1" fill="url(#d1_57)"/>
<rect x="2" y="168" width="934" height="1" fill="url(#d1_58)"/>
<rect x="2" y="169" width="934" height="3" fill="url(#d1_59)"/>
<rect x="2" y="172" width="934" height="5" fill="url(#d1_60)"/>
<rect x="2" y="177" width="934" height="2" fill="url(#d1_61)"/>
<rect x="2" y="179" width="934" height="2" fill="url(#d1_62)"/>
<rect x="2" y="181" width="934" height="1" fill="url(#d1_64)"/>
<rect x="2" y="182" width="934" height="8" fill="url(#d2_2)"/>
<rect x="2" y="190" width="934" height="1" fill="url(#d2_3)"/>
<rect x="2" y="191" width="934" height="1" fill="url(#d2_4)"/>
<rect x="2" y="192" width="934" height="2" fill="url(#d2_5)"/>
<rect x="2" y="194" width="934" height="2" fill="url(#d2_6)"/>
<rect x="2" y="196" width="934" height="1" fill="url(#d2_7)"/>
<rect x="2" y="197" width="934" height="10" fill="url(#d2_8)"/>
<rect x="2" y="207" width="934" height="3" fill="url(#d2_9)"/>
<rect x="2" y="210" width="934" height="4" fill="url(#d2_10)"/>
<rect x="2" y="214" width="934" height="2" fill="url(#d2_11)"/>
<rect x="2" y="216" width="934" height="5" fill="url(#d2_12)"/>
<rect x="2" y="221" width="934" height="11" fill="url(#d2_13)"/>
<rect x="2" y="232" width="934" height="3" fill="url(#d2_14)"/>
<rect x="2" y="235" width="934" height="22" fill="url(#d2_15)"/>
<rect x="2" y="257" width="934" height="8" fill="url(#d2_14)"/>
<rect x="2" y="265" width="934" height="8" fill="url(#d2_13)"/>
<rect x="2" y="273" width="934" height="6" fill="url(#d2_12)"/>
<rect x="2" y="279" width="934" height="1" fill="url(#d2_11)"/>
<rect x="2" y="280" width="934" height="11" fill="url(#d2_10)"/>
<rect x="2" y="291" width="934" height="1" fill="url(#d2_9)"/>
<rect x="2" y="292" width="934" height="4" fill="url(#d2_8)"/>
<rect x="2" y="296" width="934" height="2" fill="url(#d2_6)"/>
<rect x="2" y="298" width="934" height="2" fill="url(#d2_5)"/>
<rect x="2" y="300" width="934" height="8" fill="url(#d2_4)"/>
<rect x="2" y="308" width="934" height="2" fill="url(#d2_3)"/>
<rect x="2" y="310" width="934" height="1" fill="url(#d2_2)"/>
<rect x="2" y="311" width="934" height="1" fill="url(#d2_1)"/>
<rect x="2" y="312" width="934" height="1" fill="url(#d2_0)"/>
<rect x="2" y="313" width="934" height="3" fill="url(#d1_64)"/>
<rect x="2" y="316" width="934" height="2" fill="url(#d1_62)"/>
<rect x="2" y="318" width="934" height="2" fill="url(#d1_61)"/>
<rect x="2" y="320" width="934" height="5" fill="url(#d1_60)"/>
<rect x="2" y="325" width="934" height="1" fill="url(#d1_59)"/>
<rect x="2" y="326" width="934" height="2" fill="url(#d1_58)"/>
<rect x="2" y="328" width="934" height="2" fill="url(#d1_57)"/>
<rect x="2" y="330" width="934" height="2" fill="url(#d1_56)"/>
<rect x="2" y="332" width="934" height="2" fill="url(#d1_55)"/>
<rect x="2" y="334" width="934" height="2" fill="url(#d1_54)"/>
<rect x="2" y="336" width="934" height="2" fill="url(#d1_53)"/>
<rect x="2" y="338" width="934" height="1" fill="url(#d1_52)"/>
<rect x="2" y="339" width="934" height="4" fill="url(#d1_51)"/>
<rect x="2" y="343" width="934" height="3" fill="url(#d1_50)"/>
<rect x="2" y="346" width="934" height="2" fill="url(#d1_49)"/>
<rect x="2" y="348" width="934" height="1" fill="url(#d1_48)"/>
<rect x="2" y="349" width="934" height="3" fill="url(#d1_47)"/>
<rect x="2" y="352" width="934" height="2" fill="url(#d1_46)"/>
<rect x="2" y="354" width="934" height="1" fill="url(#d1_45)"/>
<rect x="2" y="355" width="934" height="1" fill="url(#d1_44)"/>
<rect x="2" y="356" width="934" height="1" fill="url(#d1_43)"/>
<rect x="2" y="357" width="934" height="2" fill="url(#d1_41)"/>
<rect x="2" y="359" width="934" height="2" fill="url(#d1_40)"/>
<rect x="2" y="361" width="934" height="4" fill="url(#d1_39)"/>
<rect x="2" y="365" width="934" height="3" fill="url(#d1_38)"/>
<rect x="2" y="368" width="934" height="4" fill="url(#d1_37)"/>
<rect x="2" y="372" width="934" height="3" fill="url(#d1_36)"/>
<rect x="2" y="375" width="934" height="2" fill="url(#d1_35)"/>
<rect x="2" y="377" width="934" height="1" fill="url(#d1_34)"/>
<rect x="2" y="378" width="934" height="2" fill="url(#d1_33)"/>
<rect x="2" y="380" width="934" height="1" fill="url(#d1_32)"/>
<rect x="2" y="381" width="934" height="2" fill="url(#d1_31)"/>
<rect x="2" y="383" width="934" height="1" fill="url(#d1_30)"/>
<rect x="2" y="384" width="934" height="2" fill="url(#d1_29)"/>
<rect x="2" y="386" width="934" height="1" fill="url(#d1_28)"/>
<rect x="2" y="387" width="934" height="2" fill="url(#d1_27)"/>
<rect x="2" y="389" width="934" height="1" fill="url(#d1_26)"/>
<rect x="2" y="390" width="934" height="2" fill="url(#d1_25)"/>
<rect x="2" y="392" width="934" height="2" fill="url(#d1_24)"/>
<rect x="2" y="394" width="934" height="2" fill="url(#d1_23)"/>
<rect x="2" y="396" width="934" height="2" fill="url(#d1_22)"/>
<rect x="2" y="398" width="934" height="3" fill="url(#d1_21)"/>
<rect x="2" y="401" width="934" height="2" fill="url(#d1_20)"/>
<rect x="2" y="403" width="934" height="3" fill="url(#d1_19)"/>
<rect x="2" y="406" width="934" height="4" fill="url(#d1_18)"/>
<rect x="2" y="410" width="934" height="3" fill="url(#d1_17)"/>
<rect x="2" y="413" width="934" height="8" fill="url(#d1_16)"/>
<rect x="2" y="421" width="934" height="2" fill="url(#d1_15)"/>
<rect x="2" y="423" width="934" height="2" fill="url(#d1_14)"/>
<rect x="2" y="425" width="934" height="2" fill="url(#d1_13)"/>
<rect x="2" y="427" width="934" height="3" fill="url(#d1_12)"/>
<rect x="2" y="430" width="934" height="2" fill="url(#d1_11)"/>
<rect x="2" y="432" width="934" height="1" fill="url(#d1_10)"/>
<rect x="2" y="433" width="934" height="1" fill="url(#d1_9)"/>
<rect x="2" y="434" width="934" height="13" fill="url(#d1_8)"/>
<rect x="2" y="447" width="934" height="2" fill="url(#d1_6)"/>
<rect x="2" y="449" width="934" height="6" fill="url(#d1_5)"/>
<rect x="2" y="455" width="934" height="11" fill="url(#d1_4)"/>
<rect x="2" y="466" width="934" height="10" fill="url(#d1_3)"/>
<rect x="2" y="476" width="934" height="6" fill="url(#d1_2)"/>
<rect x="2" y="482" width="934" height="2" fill="url(#d1_1)"/>
<rect x="2" y="484" width="934" height="1" fill="url(#d1_0)"/>
</g>
<g class="ld">
<polyline points="203.0,129.3 209.0,129.3 474.0,188.5"/>
<polyline points="265.0,78.4 271.0,78.4 489.0,189.5"/>
<polyline points="354.0,66.0 360.0,66.0 501.4,190.7"/>
<polyline points="489.0,83.4 495.0,83.4 529.0,195.2"/>
<polyline points="497.0,140.6 501.4,140.6 516.5,191.5"/>
<polyline points="549.6,115.2 544.0,199.0"/>
<polyline points="670.0,27.3 664.0,27.5 556.6,203.2"/>
<polyline points="704.0,86.0 697.7,86.4 564.1,206.5"/>
<polyline points="715.6,147.8 708.8,148.2 569.1,209.0"/>
<polyline points="654.8,182.2 648.7,182.8 584.1,219.0"/>
<polyline points="710.0,233.5 595.0,230.0"/>
<polyline points="707.0,300.8 700.7,300.8 598.2,242.6"/>
<polyline points="701.0,389.0 694.5,389.0 595.2,270.2"/>
<polyline points="711.0,441.0 704.5,441.0 585.7,282.7"/>
<polyline points="561.2,370.0 561.2,295.2"/>
<polyline points="530.0,422.5 530.0,306.5"/>
<polyline points="496.7,449.0 503.3,449.0 509.8,310.0"/>
<polyline points="482.2,349.0 482.2,313.5"/>
<polyline points="123.3,452.7 131.7,452.7 463.7,314.0"/>
<polyline points="175.0,359.0 183.3,359.0 448.0,313.5"/>
<polyline points="241.7,265.7 250.0,265.7 329.3,239.0"/>
</g>
<g>
<polygon points="465.5,234.1 482.1,188.6 482.1,200.4 465.5,245.9" fill="#4f4f84" stroke="#4f4f84" stroke-width="0.7"/><polygon points="465.5,234.1 465.5,188.1 469.6,188.1 473.8,188.2 477.9,188.4 482.1,188.6" fill="url(#prg)"/>
<polygon points="468.2,234.2 490.8,189.3 490.8,201.1 468.2,246.0" fill="#40152a" stroke="#40152a" stroke-width="0.7"/><polygon points="468.2,234.2 484.8,188.8 487.8,189.0 490.8,189.3" fill="#993366"/>
<polygon points="470.8,234.5 509.2,191.5 509.2,203.3 470.8,246.3" fill="#84846a" stroke="#84846a" stroke-width="0.7"/><polygon points="470.8,234.5 493.4,189.5 497.4,189.9 501.4,190.4 505.3,190.9 509.2,191.5" fill="#FFFFCC"/>
<polygon points="474.2,235.1 525.3,194.5 525.3,206.3 474.2,246.9" fill="#6a8484" stroke="#6a8484" stroke-width="0.7"/><polygon points="474.2,235.1 512.6,192.1 515.8,192.6 519.0,193.2 522.2,193.8 525.3,194.5" fill="#CCFFFF"/>
<polygon points="476.7,235.6 535.5,197.0 535.5,208.8 476.7,247.4" fill="#2a002a" stroke="#2a002a" stroke-width="0.7"/><polygon points="476.7,235.6 527.7,195.1 530.3,195.7 532.9,196.3 535.5,197.0" fill="#660066"/>
<polygon points="478.9,236.2 548.2,200.9 548.2,212.7 478.9,248.0" fill="#6b3535" stroke="#6b3535" stroke-width="0.7"/><polygon points="478.9,236.2 537.7,197.6 540.4,198.4 543.1,199.2 545.7,200.1 548.2,200.9" fill="#FF8080"/>
<polygon points="481.3,237.1 559.8,205.5 559.8,217.3 481.3,248.9" fill="#002a55" stroke="#002a55" stroke-width="0.7"/><polygon points="481.3,237.1 550.6,201.8 553.8,203.0 556.9,204.2 559.8,205.5" fill="#0066CC"/>
<polygon points="482.7,237.7 564.3,207.5 564.3,219.3 482.7,249.5" fill="#6a6a84" stroke="#6a6a84" stroke-width="0.7"/><polygon points="482.7,237.7 561.3,206.1 562.8,206.8 564.3,207.5" fill="#CCCCFF"/>
<polygon points="483.9,238.3 572.1,211.7 572.1,223.5 483.9,250.1" fill="#000035" stroke="#000035" stroke-width="0.7"/><polygon points="483.9,238.3 565.4,208.1 567.7,209.3 570.0,210.5 572.1,211.7" fill="#000080"/>
<polygon points="486.7,240.1 589.3,225.9 589.3,237.7 486.7,251.9" fill="#6b006b" stroke="#6b006b" stroke-width="0.7"/><polygon points="486.7,240.1 574.8,213.6 577.1,215.0 579.3,216.5 581.3,218.0 583.2,219.5 584.9,221.1 586.5,222.6 588.0,224.2 589.3,225.9" fill="#FF00FF"/>
<polygon points="488.5,242.3 594.2,232.8 594.2,244.6 488.5,254.1" fill="#6b6b00" stroke="#6b6b00" stroke-width="0.7"/><polygon points="488.5,242.3 591.2,228.0 592.4,229.6 593.4,231.2 594.2,232.8" fill="#FFFF00"/>
<polygon points="437.8,243.8 410.5,288.9 410.5,300.7 437.8,255.6" fill="url(#kalw)" stroke="url(#kalw)" stroke-width="0.7"/><polygon points="410.5,288.9 406.4,288.4 402.3,287.9 398.4,287.3 394.4,286.7 390.6,286.0 386.8,285.2 383.1,284.4 379.4,283.5 375.9,282.5 372.5,281.5 369.1,280.4 365.8,279.3 362.7,278.2 359.7,276.9 356.7,275.7 354.0,274.4 351.3,273.0 348.7,271.6 346.3,270.1 344.1,268.7 341.9,267.1 340.0,265.6 338.1,264.0 336.4,262.4 334.9,260.8 333.5,259.1 332.3,257.4 331.3,255.7 330.4,254.0 329.6,252.3 329.0,250.6 328.6,248.8 328.4,247.1 328.3,245.3 328.3,257.1 328.4,258.9 328.6,260.6 329.0,262.4 329.6,264.1 330.4,265.8 331.3,267.5 332.3,269.2 333.5,270.9 334.9,272.6 336.4,274.2 338.1,275.8 340.0,277.4 341.9,278.9 344.1,280.5 346.3,281.9 348.7,283.4 351.3,284.8 354.0,286.2 356.7,287.5 359.7,288.7 362.7,290.0 365.8,291.1 369.1,292.2 372.5,293.3 375.9,294.3 379.4,295.3 383.1,296.2 386.8,297.0 390.6,297.8 394.4,298.5 398.4,299.1 402.3,299.7 406.4,300.2 410.5,300.7" fill="url(#kalw)" stroke="url(#kalw)" stroke-width="0.7"/><polygon points="437.8,243.8 410.5,288.9 406.3,288.4 402.2,287.9 398.2,287.3 394.2,286.6 390.3,285.9 386.4,285.1 382.7,284.3 379.0,283.4 375.4,282.4 371.9,281.3 368.5,280.3 365.2,279.1 362.0,277.9 359.0,276.7 356.1,275.4 353.3,274.0 350.6,272.6 348.0,271.2 345.6,269.7 343.4,268.2 341.3,266.6 339.3,265.0 337.5,263.4 335.8,261.8 334.3,260.1 333.0,258.4 331.8,256.7 330.8,255.0 330.0,253.2 329.3,251.5 328.8,249.7 328.5,247.9 328.3,246.1 328.3,244.3 328.5,242.4 328.8,240.5 329.4,238.7 330.1,236.8 330.9,235.0 331.9,233.2 333.1,231.4 334.5,229.6 336.0,227.8 337.6,226.1 339.5,224.4 341.4,222.7 343.6,221.1 345.8,219.5 348.2,218.0 350.8,216.5 353.5,215.0 356.3,213.6 359.2,212.2 362.3,210.9 365.5,209.7 368.8,208.5 372.2,207.3 375.7,206.2 379.3,205.2 383.0,204.3 386.7,203.4 390.6,202.5 394.5,201.8 398.5,201.1 402.6,200.5 406.7,199.9 410.8,199.4 415.0,199.0 419.2,198.7 423.5,198.4 427.7,198.2 432.0,198.1 436.3,198.1" fill="url(#kalg)"/>
<polygon points="489.4,244.6 596.6,250.1 596.6,261.9 489.4,256.4" fill="#006b6b" stroke="#006b6b" stroke-width="0.7"/><polygon points="597.4,244.6 597.3,246.0 597.2,247.4 597.0,248.8 596.6,250.1 596.6,261.9 597.0,260.6 597.2,259.2 597.3,257.8 597.4,256.4" fill="#007f7f" stroke="#007f7f" stroke-width="0.7"/><polygon points="489.4,244.6 595.1,235.2 595.8,236.8 596.4,238.5 596.9,240.1 597.2,241.8 597.4,243.5 597.4,245.1 597.3,246.8 597.0,248.5 596.6,250.1" fill="#00FFFF"/>
<polygon points="488.8,247.5 591.4,261.9 591.4,273.7 488.8,259.3" fill="#350035" stroke="#350035" stroke-width="0.7"/><polygon points="596.0,253.0 595.4,254.8 594.7,256.6 593.7,258.4 592.7,260.1 591.4,261.9 591.4,273.7 592.7,271.9 593.7,270.2 594.7,268.4 595.4,266.6 596.0,264.8" fill="#400040" stroke="#400040" stroke-width="0.7"/><polygon points="488.8,247.5 596.0,253.0 595.4,254.8 594.7,256.6 593.7,258.4 592.7,260.1 591.4,261.9" fill="#800080"/>
<polygon points="487.0,249.8 578.6,274.1 578.6,285.9 487.0,261.6" fill="#350000" stroke="#350000" stroke-width="0.7"/><polygon points="589.6,264.1 588.4,265.6 587.0,267.1 585.6,268.5 584.0,270.0 582.3,271.4 580.5,272.8 578.6,274.1 578.6,285.9 580.5,284.6 582.3,283.2 584.0,281.8 585.6,280.3 587.0,278.9 588.4,277.4 589.6,275.9" fill="#400000" stroke="#400000" stroke-width="0.7"/><polygon points="487.0,249.8 589.6,264.1 588.4,265.6 587.0,267.1 585.6,268.5 584.0,270.0 582.3,271.4 580.5,272.8 578.6,274.1" fill="#800000"/>
<polygon points="482.3,252.7 544.6,290.3 544.6,302.1 482.3,264.5" fill="#003535" stroke="#003535" stroke-width="0.7"/><polygon points="574.0,277.0 571.6,278.6 569.2,280.0 566.5,281.5 563.8,282.9 560.9,284.3 557.9,285.6 554.7,286.8 551.5,288.0 548.1,289.2 544.6,290.3 544.6,302.1 548.1,301.0 551.5,299.8 554.7,298.6 557.9,297.4 560.9,296.1 563.8,294.7 566.5,293.3 569.2,291.8 571.6,290.4 574.0,288.8" fill="#004040" stroke="#004040" stroke-width="0.7"/><polygon points="482.3,252.7 574.0,277.0 571.6,278.6 569.2,280.0 566.5,281.5 563.8,282.9 560.9,284.3 557.9,285.6 554.7,286.8 551.5,288.0 548.1,289.2 544.6,290.3" fill="#008080"/>
<polygon points="476.4,254.7 520.7,296.6 520.7,308.4 476.4,266.5" fill="#00006b" stroke="#00006b" stroke-width="0.7"/><polygon points="538.7,292.3 535.2,293.3 531.7,294.2 528.1,295.1 524.5,295.9 520.7,296.6 520.7,308.4 524.5,307.7 528.1,306.9 531.7,306.0 535.2,305.1 538.7,304.1" fill="#00007f" stroke="#00007f" stroke-width="0.7"/><polygon points="476.4,254.7 538.7,292.3 535.2,293.3 531.7,294.2 528.1,295.1 524.5,295.9 520.7,296.6" fill="#0000FF"/>
<polygon points="472.3,255.5 501.0,299.8 501.0,311.6 472.3,267.3" fill="#00556b" stroke="#00556b" stroke-width="0.7"/><polygon points="516.6,297.4 512.8,298.1 508.9,298.8 505.0,299.3 501.0,299.8 501.0,311.6 505.0,311.1 508.9,310.6 512.8,309.9 516.6,309.2" fill="#00667f" stroke="#00667f" stroke-width="0.7"/><polygon points="472.3,255.5 516.6,297.4 512.8,298.1 508.9,298.8 505.0,299.3 501.0,299.8" fill="#00CCFF"/>
<polygon points="467.2,256.0 468.9,302.0 468.9,313.8 467.2,267.8" fill="#6a8484" stroke="#6a8484" stroke-width="0.7"/><polygon points="495.8,300.4 492.1,300.8 488.3,301.1 484.4,301.4 480.6,301.7 476.7,301.8 472.8,302.0 468.9,302.0 468.9,313.8 472.8,313.8 476.7,313.6 480.6,313.5 484.4,313.2 488.3,312.9 492.1,312.6 495.8,312.2" fill="#769393" stroke="#769393" stroke-width="0.7"/><polygon points="467.2,256.0 495.8,300.4 492.1,300.8 488.3,301.1 484.4,301.4 480.6,301.7 476.7,301.8 472.8,302.0 468.9,302.0" fill="#CCFFFF"/>
<polygon points="460.3,256.1 459.6,302.1 459.6,313.9 460.3,267.9" fill="#84844f" stroke="#84844f" stroke-width="0.7"/><polygon points="459.6,302.1 455.4,302.0 451.1,301.9 446.9,301.7 442.7,301.4 438.6,301.1 434.5,300.7 434.5,312.5 438.6,312.9 442.7,313.2 446.9,313.5 451.1,313.7 455.4,313.8 459.6,313.9" fill="#939358" stroke="#939358" stroke-width="0.7"/><polygon points="460.3,256.1 459.6,302.1 455.4,302.0 451.1,301.9 446.9,301.7 442.7,301.4 438.6,301.1 434.5,300.7" fill="#FFFF99"/>
<polygon points="465.4,302.1 462.9,302.1 462.9,313.9 465.4,313.9" fill="#769376" stroke="#769376" stroke-width="0.7"/><polygon points="463.6,256.1 465.4,302.1 462.9,302.1" fill="#CCFFCC"/>
</g>
<g>
<text x="332.0" y="33.0">Славский район</text>
<text x="332.0" y="49.8" letter-spacing="0.35">22300</text>
<text x="332.0" y="66.6" letter-spacing="0.35">2,43%</text>
<text x="467.2" y="33.4">Полесский</text>
<text x="467.2" y="50.1">район</text>
<text x="467.2" y="66.9" letter-spacing="0.35">18800</text>
<text x="467.2" y="83.7" letter-spacing="0.35">2,05%</text>
<text x="473.0" y="107.8">г.Пионерский</text>
<text x="473.0" y="124.3" letter-spacing="0.35">12200</text>
<text x="473.0" y="140.9" letter-spacing="0.35">1,33%</text>
<text x="571.4" y="64.9">Озерский</text>
<text x="571.4" y="81.5">район</text>
<text x="571.4" y="98.0" letter-spacing="0.35">17700</text>
<text x="571.4" y="114.6" letter-spacing="0.35">1,93%</text>
<text x="740.3" y="27.7">Нестеровский район</text>
<text x="740.3" y="44.5" letter-spacing="0.35">17200</text>
<text x="740.3" y="61.3" letter-spacing="0.35">1,87%</text>
<text x="748.4" y="86.8">п. Янтарный</text>
<text x="748.4" y="103.3" letter-spacing="0.35">6100</text>
<text x="748.4" y="119.9" letter-spacing="0.35">0,66%</text>
<text x="801.8" y="148.5">Краснознаменский район</text>
<text x="801.8" y="165.1" letter-spacing="0.35">14500</text>
<text x="801.8" y="181.6" letter-spacing="0.35">1,58%</text>
<text x="689.0" y="182.5">г.Советск</text>
<text x="689.0" y="199.1" letter-spacing="0.35">43900</text>
<text x="689.0" y="215.6" letter-spacing="0.35">4,78%</text>
<text x="798.0" y="234.0">Светлогорский городской</text>
<text x="798.0" y="250.6">округ</text>
<text x="798.0" y="267.1" letter-spacing="0.35">15900</text>
<text x="798.0" y="283.6" letter-spacing="0.35">1,73%</text>
<text x="769.9" y="301.2">Гурьевский район</text>
<text x="769.9" y="317.8" letter-spacing="0.35">47700</text>
<text x="769.9" y="334.4" letter-spacing="0.35">5,20%</text>
<text x="766.8" y="388.8">Гвардейский район</text>
<text x="766.8" y="405.8" letter-spacing="0.35">28800</text>
<text x="766.8" y="422.8" letter-spacing="0.35">3,14%</text>
<text x="793.0" y="440.7">Багратионовский район</text>
<text x="793.0" y="457.2" letter-spacing="0.35">35100</text>
<text x="793.0" y="473.7" letter-spacing="0.35">3,82%</text>
<text x="594.5" y="383.3">Черняховский</text>
<text x="594.5" y="399.9">район</text>
<text x="594.5" y="416.4" letter-spacing="0.35">58200</text>
<text x="594.5" y="433.0" letter-spacing="0.35">6,34%</text>
<text x="599.2" y="439.6">Светловский городской</text>
<text x="599.2" y="456.2">округ</text>
<text x="599.2" y="472.7" letter-spacing="0.35">28000</text>
<text x="599.2" y="489.2" letter-spacing="0.35">3,05%</text>
<text x="436.5" y="450.4">Неманский район</text>
<text x="436.5" y="466.9" letter-spacing="0.35">22600</text>
<text x="436.5" y="483.5" letter-spacing="0.35">2,46%</text>
<text x="467.0" y="364.2">Гусевский</text>
<text x="467.0" y="380.8">район</text>
<text x="467.0" y="397.3" letter-spacing="0.35">36900</text>
<text x="467.0" y="413.9" letter-spacing="0.35">4,02%</text>
<text x="80.3" y="456.6">г.Ладушкин</text>
<text x="80.3" y="473.2" letter-spacing="0.35">3300</text>
<text x="80.3" y="489.7" letter-spacing="0.35">0,36%</text>
<text x="98.0" y="359.0">Балтийский городской</text>
<text x="98.0" y="375.8">округ</text>
<text x="98.0" y="392.6" letter-spacing="0.35">34300</text>
<text x="98.0" y="409.4" letter-spacing="0.35">3,74%</text>
<text x="188.8" y="265.5">г.Калининград</text>
<text x="188.8" y="282.4" letter-spacing="0.35">423700</text>
<text x="188.8" y="299.3" letter-spacing="0.35">46,15%</text>
<text x="135.0" y="128.8">Правдинский район</text>
<text x="135.0" y="145.8" letter-spacing="0.35">22500</text>
<text x="135.0" y="162.8" letter-spacing="0.35">2,45%</text>
<text x="178.3" y="77.9" letter-spacing="0.09">г. Мамоново; 8300; 0,90%</text>
</g>
</svg>
</body></html>
